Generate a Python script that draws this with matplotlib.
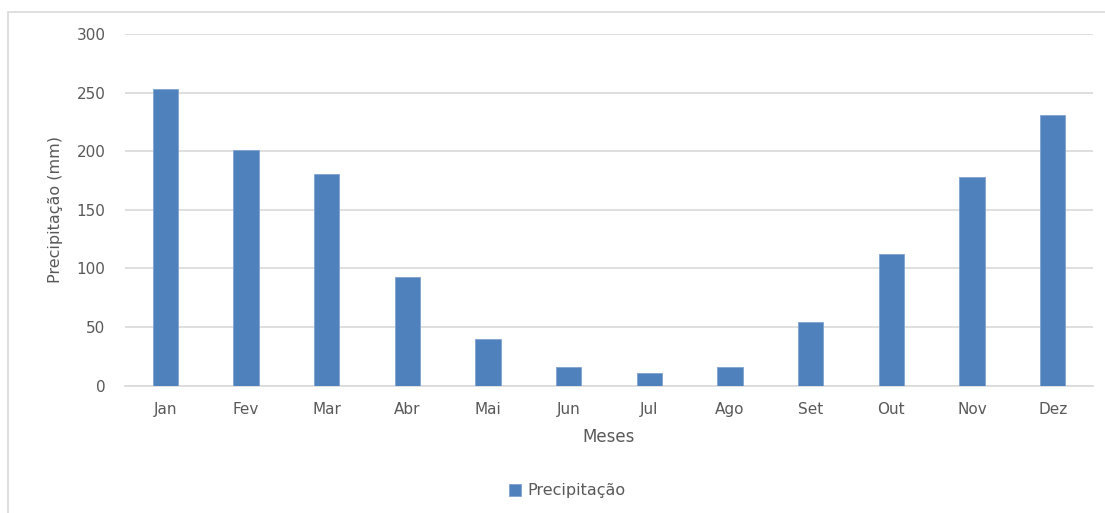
import matplotlib
matplotlib.use("Agg")
import matplotlib.pyplot as plt
from matplotlib.patches import Rectangle

meses = ["Jan", "Fev", "Mar", "Abr", "Mai", "Jun", "Jul", "Ago", "Set", "Out", "Nov", "Dez"]
precipitacao = [253, 201, 181, 93, 40, 16, 11, 16, 54, 112, 178, 231]
y_ticks = [0, 50, 100, 150, 200, 250, 300]

plt.rcParams['font.family'] = ['DejaVu Sans']
txt = '#595959'
grid = '#D9D9D9'

fig = plt.figure(figsize=(11.05, 5.13), dpi=100)
fig.patches.append(Rectangle((8/1105, -0.05), 1.2, 1 - 12/513 + 0.05, transform=fig.transFigure,
                             fill=False, edgecolor=grid, linewidth=1.2, zorder=0))
ax = fig.add_axes([125/1105, 1 - 385.7/513, 968/1105, (385.7 - 34)/513])

x = range(len(meses))
ax.bar(x, precipitacao, width=0.31, color='#4F81BD', edgecolor='#7FA3D1', linewidth=0.6,
       label='Precipitação', zorder=3)
ax.set_xlim(-0.5, len(meses) - 0.5)
ax.set_ylim(0, 300)
ax.set_yticks(y_ticks)
ax.set_xticks(list(x))
ax.set_xticklabels(meses)
ax.yaxis.grid(True, color=grid, linewidth=1.2, zorder=0)
ax.set_axisbelow(True)
for s in ['top', 'right', 'left']:
    ax.spines[s].set_visible(False)
ax.spines['bottom'].set_color(grid)
ax.spines['bottom'].set_linewidth(1.2)
ax.tick_params(axis='both', length=0, colors=txt, labelsize=11)
ax.tick_params(axis='x', pad=12)
ax.tick_params(axis='y', pad=14)
ax.set_xlabel('Meses', color=txt, fontsize=12, labelpad=8)
ax.set_ylabel('Precipitação (mm)', color=txt, fontsize=11.5, labelpad=10)

leg = fig.legend(loc='center', bbox_to_anchor=(567/1105, 1 - 491/513), frameon=False,
                 fontsize=11.5, handlelength=0.75, handleheight=0.75, handletextpad=0.4)
for t in leg.get_texts():
    t.set_color(txt)

fig.savefig('out.png', dpi=100)
